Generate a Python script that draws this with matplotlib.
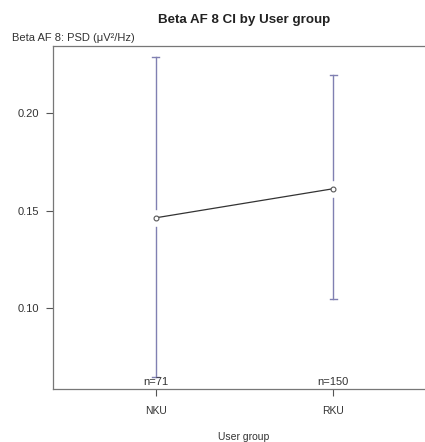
import matplotlib.pyplot as plt
import numpy as np

plt.rcParams['font.family'] = ['Liberation Sans', 'DejaVu Sans']

groups = ['NKU', 'RKU']
means = [0.1465, 0.1614]
ci_low = [0.0650, 0.1050]
ci_high = [0.2290, 0.2195]
counts = [71, 150]

x = np.arange(1, len(groups) + 1)

W, H = 425, 442
fig = plt.figure(figsize=(W / 100, H / 100), dpi=100)
# plot region in pixels: left 53, right 436 (runs past the canvas), top 46, bottom 389
ax = fig.add_axes([53 / W, 1 - 389 / H, (436 - 53) / W, (389 - 46) / H])
ax.set_xlim(0.42, 2.58)
ax.set_ylim(0.0587, 0.2346)

bar_col = '#8080b2'
gap = 0.0045
for xi, m, lo, hi in zip(x, means, ci_low, ci_high):
    # CI whiskers with a small gap around the mean point
    ax.plot([xi, xi], [lo, m - gap], color=bar_col, lw=1.0)
    ax.plot([xi, xi], [m + gap, hi], color=bar_col, lw=1.0)
    ax.plot([xi - 0.02, xi + 0.02], [hi, hi], color=bar_col, lw=1.0)
    ax.plot([xi - 0.02, xi + 0.02], [lo, lo], color=bar_col, lw=1.0)

ax.plot(x, means, color='#333333', lw=0.9, zorder=3)
ax.plot(x, means, 'o', ms=3.5, mfc='white', mec='#555555', mew=0.8, zorder=4)

for xi, n in zip(x, counts):
    ax.text(xi, 0.0595, f'n={n}', ha='center', va='bottom', fontsize=8, color='#333333')

ax.set_xticks(x)
ax.set_xticklabels(groups)
ax.set_yticks([0.10, 0.15, 0.20])
ax.set_yticklabels(['0.10', '0.15', '0.20'])
ax.tick_params(direction='out', length=5, width=0.8, colors='#555555',
               labelcolor='#333333')
ax.tick_params(axis='x', pad=7.5, labelsize=7.5)
ax.tick_params(axis='y', pad=5, labelsize=8)

for s in ax.spines.values():
    s.set_color('#777777')
    s.set_linewidth(0.9)

fig.text(244 / W, 1 - 20 / H, 'Beta AF 8 CI by User group', ha='center', va='center',
         fontsize=9.6, fontweight='bold', color='#222222')
fig.text(12 / W, 1 - 38 / H, 'Beta AF 8: PSD (\u03bcV\u00b2/Hz)', ha='left', va='center',
         fontsize=8, color='#333333')
fig.text(244 / W, 1 - 437 / H, 'User group', ha='center', va='center', fontsize=7.5,
         color='#333333')

fig.savefig('out.png', dpi=100)
